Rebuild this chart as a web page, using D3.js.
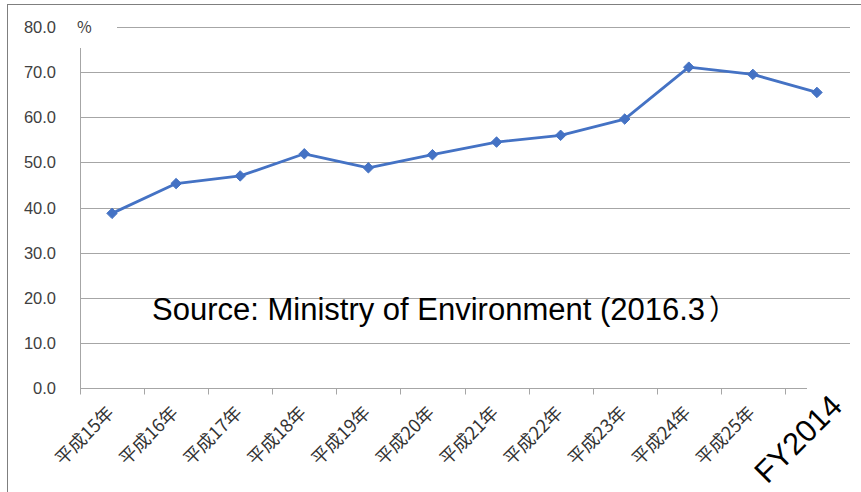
<!DOCTYPE html>
<html><head><meta charset="utf-8">
<script src="https://cdn.jsdelivr.net/npm/d3@7"></script>
<style>
body{margin:0;background:#fff;}
svg{display:block;}
</style></head>
<body>
<svg id="chart" width="861" height="492"></svg>
<script>
const categories = ["平成15年","平成16年","平成17年","平成18年","平成19年","平成20年","平成21年","平成22年","平成23年","平成24年","平成25年","FY2014"];
const values = [38.7, 45.3, 47.0, 51.9, 48.8, 51.7, 54.5, 56.0, 59.6, 71.1, 69.5, 65.5];
const yTicks = [0,10,20,30,40,50,60,70,80];
const unitLabel = "%";
const sourceText = "Source: Ministry of Environment (2016.3";
const sourceClose = "）";

(function(){
const svg = d3.select("#chart");
const W = 861, H = 492;
const mLeft = 80, mRight = 849, mTop = 27, mBottom = 388;

const x = d3.scaleBand().domain(categories).range([mLeft, mRight]).paddingInner(0).paddingOuter(0);
const y = d3.scaleLinear().domain([0, 80]).range([mBottom, mTop]);

// frame
svg.append("line").attr("x1",7).attr("x2",W).attr("y1",4.5).attr("y2",4.5).attr("stroke","#7f7f7f").attr("stroke-width",1);
svg.append("line").attr("x1",7.5).attr("x2",7.5).attr("y1",4).attr("y2",H).attr("stroke","#7f7f7f").attr("stroke-width",1);

// gridlines
svg.append("g").selectAll("line").data(yTicks.filter(d=>d>0)).join("line")
  .attr("x1", mLeft).attr("x2", 850)
  .attr("y1", d=>Math.round(y(d))+0.5).attr("y2", d=>Math.round(y(d))+0.5)
  .attr("stroke","#a6a6a6").attr("stroke-width",1);

// y axis line
svg.append("line").attr("x1",mLeft+0.5).attr("x2",mLeft+0.5).attr("y1",y(0)).attr("y2",y(80))
  .attr("stroke","#a6a6a6");

// white box behind % label
svg.append("rect").attr("x",mLeft-12).attr("y",y(80)-18).attr("width",49).attr("height",39).attr("fill","#fff");
svg.append("text").attr("x",mLeft-3).attr("y",y(80)+6).text(unitLabel)
  .attr("font-family","Noto Sans CJK JP, sans-serif").attr("font-size",16).attr("fill","#404040");

// y tick labels
svg.append("g").selectAll("text").data(yTicks).join("text")
  .attr("x", 56).attr("y", d=>y(d)+6).attr("text-anchor","end")
  .attr("font-family","Liberation Sans, Arial, sans-serif").attr("font-size",16.5).attr("fill","#404040")
  .text(d=>d.toFixed(1));

// x axis
const gx = svg.append("g").attr("transform",`translate(0,${Math.round(y(0))+0.5})`);
gx.append("line").attr("x1",mLeft).attr("x2",807).attr("stroke","#a6a6a6");
gx.selectAll("line.tick").data(categories).join("line").attr("class","tick")
  .attr("x1",d=>Math.round(x(d))+0.5).attr("x2",d=>Math.round(x(d))+0.5).attr("y1",0).attr("y2",6)
  .attr("stroke","#a6a6a6");

// x labels
const last = categories.length-1;
svg.append("g").selectAll("text").data(categories).join("text")
  .attr("text-anchor","end")
  .attr("transform",(d,i)=>{
    const cx = x(d)+x.bandwidth()/2;
    return i===last ? `translate(${cx+27},${408}) rotate(-45)` : `translate(${cx+3},${414}) rotate(-45)`;
  })
  .attr("font-family",(d,i)=> i===last ? "Liberation Sans, Arial, sans-serif" : "Noto Sans CJK JP, sans-serif")
  .attr("font-size",(d,i)=> i===last ? 31 : 18)
  .attr("fill",(d,i)=> i===last ? "#000" : "#333")
  .text(d=>d);

// line
const line = d3.line().x((d,i)=>x(categories[i])+x.bandwidth()/2).y(d=>y(d));
svg.append("path").datum(values).attr("d",line).attr("fill","none")
  .attr("stroke","#4472C4").attr("stroke-width",2.8).attr("stroke-linejoin","round");

// markers
svg.append("g").selectAll("path").data(values).join("path")
  .attr("transform",(d,i)=>`translate(${x(categories[i])+x.bandwidth()/2},${y(d)})`)
  .attr("d", d3.symbol(d3.symbolDiamond2, 70)())
  .attr("fill","#4472C4").attr("stroke","#4472C4").attr("stroke-width",1);

// source text
const st = svg.append("text").attr("x",152).attr("y",320)
  .attr("font-family","Liberation Sans, Arial, sans-serif").attr("font-size",31).attr("fill","#000");
st.append("tspan").text(sourceText);
st.append("tspan").attr("dx",4).attr("font-family","Noto Sans CJK JP, sans-serif").attr("font-size",28).text(sourceClose);
})();
</script>
</body></html>
